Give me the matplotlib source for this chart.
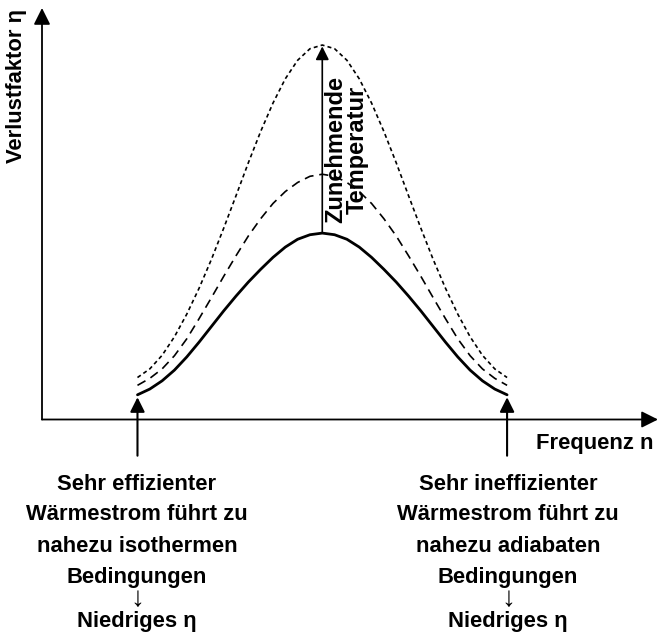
import matplotlib.pyplot as plt

# loss factor over frequency, three temperatures (schematic)
freq = [15.5, 17.5, 19.5, 21.5, 23.5, 25.5, 27.5, 29.5, 31.5, 33.5, 35.5,
        37.5, 39.5, 41.5, 43.5, 45.5, 47.5, 49.5, 51.5, 53.5, 55.5, 57.5,
        59.5, 61.5, 63.5, 65.5, 67.5, 69.5, 71.5, 73.5, 75.5]
eta_low = [6.0, 7.4, 9.4, 12.0, 15.2, 18.8, 22.6, 26.4, 30.0, 33.4, 36.5,
           39.4, 41.9, 43.8, 44.9, 45.3, 44.9, 43.8, 41.9, 39.4, 36.5, 33.4,
           30.0, 26.4, 22.6, 18.8, 15.2, 12.0, 9.4, 7.4, 6.0]
eta_mid = [8.3, 10.0, 12.3, 15.5, 19.6, 24.5, 29.6, 34.8, 39.8, 44.6, 48.8,
           52.5, 55.4, 57.6, 59.1, 59.6, 59.1, 57.6, 55.4, 52.5, 48.8, 44.6,
           39.8, 34.8, 29.6, 24.5, 19.6, 15.5, 12.3, 10.0, 8.3]
eta_high = [10.2, 12.3, 15.6, 20.1, 25.6, 31.9, 38.9, 46.5, 54.4, 62.4, 70.0,
            76.9, 82.8, 87.3, 90.1, 91.0, 90.1, 87.3, 82.8, 76.9, 70.0, 62.4,
            54.4, 46.5, 38.9, 31.9, 25.6, 20.1, 15.6, 12.3, 10.2]

left_lines = ['Sehr effizienter', 'Wärmestrom führt zu', 'nahezu isothermen',
              'Bedingungen', '↓', 'Niedriges η']
right_lines = ['Sehr ineffizienter', 'Wärmestrom führt zu', 'nahezu adiabaten',
               'Bedingungen', '↓', 'Niedriges η']

plt.rcParams['font.family'] = ['Liberation Sans', 'DejaVu Sans']
FS = 15.8
W, H = 659, 632

fig = plt.figure(figsize=(W / 100, H / 100), dpi=100)
ax = fig.add_axes([42 / W, (H - 419.5) / H, (658 - 42) / W, (419.5 - 8) / H])
ax.set_xlim(0, 100)
ax.set_ylim(0, 100)
ax.axis('off')

# axes with arrow heads
axis_arrow = dict(arrowstyle='-|>', lw=1.3, color='black', mutation_scale=25,
                  shrinkA=0, shrinkB=0)
ax.annotate('', xy=(1, 0), xytext=(0, 0), xycoords='axes fraction',
            arrowprops=axis_arrow, annotation_clip=False)
ax.annotate('', xy=(0, 1), xytext=(0, 0), xycoords='axes fraction',
            arrowprops=axis_arrow, annotation_clip=False)

ax.plot(freq, eta_high, color='black', lw=1.2, linestyle=(0, (2.4, 1.9)))
ax.plot(freq, eta_mid, color='black', lw=1.2, linestyle=(0, (5.5, 3.5)))
ax.plot(freq, eta_low, color='black', lw=2.0, solid_capstyle='round')

# increasing temperature arrow
peak = eta_low.index(max(eta_low))
ax.annotate('', xy=(freq[peak], eta_high[peak]), xytext=(freq[peak], eta_low[peak]),
            arrowprops=dict(arrowstyle='-|>', lw=1.2, color='black',
                            mutation_scale=20, shrinkA=0, shrinkB=1))
ax.text(49.4, 65.5, 'Zunehmende\nTemperatur', rotation=90, ha='center',
        va='center', fontsize=17, fontweight='bold', linespacing=0.95)

# arrows pointing at both ends of the curves
for i in (0, -1):
    ax.annotate('', xy=(freq[i], eta_low[i] - 0.6), xytext=(freq[i], -8.8),
                arrowprops=dict(arrowstyle='-|>', lw=1.5, color='black',
                                mutation_scale=22, shrinkA=0, shrinkB=0),
                annotation_clip=False)

fig.text(17 / W, 1 - 86 / H, 'Verlustfaktor η', rotation=90, ha='center',
         va='center', fontsize=FS, fontweight='bold')
fig.text(653 / W, 1 - 443 / H, 'Frequenz n', ha='right', va='center',
         fontsize=FS, fontweight='bold')

line_y = [484, 515, 546, 577, 599, 621]
for cx, lines in ((137, left_lines), (508, right_lines)):
    for text, y in zip(lines, line_y):
        if text == '↓':
            fig.text(cx / W, 1 - y / H, text, ha='center', va='center',
                     fontsize=20, fontweight='normal')
        else:
            fig.text(cx / W, 1 - y / H, text, ha='center', va='center',
                     fontsize=FS, fontweight='bold')

fig.savefig('out.png', dpi=100)
